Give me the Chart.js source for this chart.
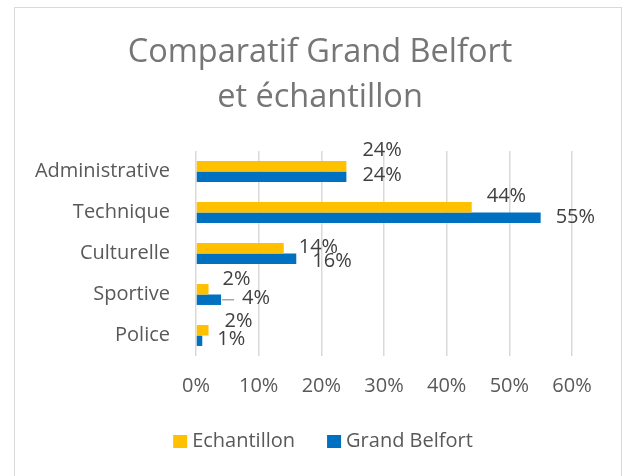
<!DOCTYPE html>
<html>
<head>
<meta charset="utf-8">
<script src="https://cdn.jsdelivr.net/npm/chart.js@4"></script>
<style>
  body { margin: 0; background: #fff; }
  #frame {
    position: absolute; left: 14px; top: 7px;
    width: 606px; height: 500px;
    border: 1px solid #d9d9d9;
  }
  canvas { position: absolute; left: 0; top: 0; }
</style>
</head>
<body>
<div id="frame"></div>
<canvas id="chart" width="628" height="476"></canvas>
<script>
const categories = ["Administrative", "Technique", "Culturelle", "Sportive", "Police"];
const echantillon = [24, 44, 14, 2, 2];
const grandBelfort = [24, 55, 16, 4, 1];
const tickValues = [0, 10, 20, 30, 40, 50, 60];
const titleLines = ["Comparatif Grand Belfort", "et échantillon"];

// label nudges (px) like the hand-moved Excel labels
const labelDx = [[16, 15, 15, 14, 16], [16, 15, 16, 21, 15]];
const labelDy = [[-16, -11, -1, -10, -9], [-1, 0, 3, -1, -1]];

const FONT = "'Open Sans', sans-serif";

// title centred on the chart frame, not on the plot
const frameTitle = {
  id: "frameTitle",
  afterDraw(chart) {
    const ctx = chart.ctx;
    ctx.save();
    ctx.font = "32.5px " + FONT;
    ctx.fillStyle = "#767676";
    ctx.textAlign = "center";
    ctx.textBaseline = "alphabetic";
    titleLines.forEach((line, i) => {
      ctx.fillText(line, chart.width / 2 + 6, 62 + i * 45);
    });
    ctx.restore();
  }
};

const barLabels = {
  id: "barLabels",
  afterDatasetsDraw(chart) {
    const ctx = chart.ctx;
    ctx.save();
    ctx.font = "20px " + FONT;
    ctx.fillStyle = "#404040";
    ctx.textAlign = "left";
    ctx.textBaseline = "middle";
    chart.data.datasets.forEach((ds, di) => {
      chart.getDatasetMeta(di).data.forEach((bar, i) => {
        const x = bar.x + labelDx[di][i];
        const y = bar.y + labelDy[di][i];
        if (labelDx[di][i] > 18) {
          // leader line
          ctx.strokeStyle = "#a6a6a6";
          ctx.lineWidth = 1.5;
          ctx.beginPath();
          ctx.moveTo(bar.x + 1, bar.y);
          ctx.lineTo(x - 8, bar.y);
          ctx.stroke();
        }
        ctx.fillText(ds.data[i] + "%", x, y);
      });
    });
    ctx.restore();
  }
};

// Excel-like legend: small gap between square and text
const excelLegend = {
  id: "excelLegend",
  afterDraw(chart) {
    const ctx = chart.ctx;
    const box = 14, gap = 5, spacing = 32;
    ctx.save();
    ctx.font = "20px " + FONT;
    ctx.textBaseline = "middle";
    ctx.textAlign = "left";
    const items = chart.data.datasets.map((ds) => ({
      text: ds.label,
      color: ds.backgroundColor,
      w: box + gap + ctx.measureText(ds.label).width,
    }));
    const total = items.reduce((s, it) => s + it.w, 0) + spacing * (items.length - 1);
    let x = chart.width / 2 + 9 - total / 2;
    const y = chart.chartArea.bottom + 85;
    items.forEach((it) => {
      ctx.fillStyle = it.color;
      ctx.fillRect(x, y - 6, box, box - 1);
      ctx.fillStyle = "#595959";
      ctx.fillText(it.text, x + box + gap, y);
      x += it.w + spacing;
    });
    ctx.restore();
  }
};

new Chart(document.getElementById("chart"), {
  type: "bar",
  data: {
    labels: categories,
    datasets: [
      {
        label: "Echantillon",
        data: echantillon,
        backgroundColor: "#FFC000",
        categoryPercentage: 0.51,
        barPercentage: 1,
      },
      {
        label: "Grand Belfort",
        data: grandBelfort,
        backgroundColor: "#0070C0",
        categoryPercentage: 0.51,
        barPercentage: 1,
      },
    ],
  },
  options: {
    indexAxis: "y",
    responsive: false,
    animation: false,
    layout: { padding: { top: 151, left: 20, right: 56, bottom: 62 } },
    plugins: {
      title: { display: false },
      legend: { display: false },
      tooltip: { enabled: false },
    },
    scales: {
      x: {
        min: 0,
        max: 60,
        afterBuildTicks: (scale) => {
          scale.ticks = tickValues.map((v) => ({ value: v }));
        },
        afterFit: (scale) => {
          scale.height = 58;
        },
        ticks: {
          color: "#595959",
          font: { family: FONT, size: 20 },
          padding: 18,
          callback: (v) => v + "%",
        },
        grid: { color: "#d9d9d9", lineWidth: 1.5, drawTicks: false },
        border: { display: false },
      },
      y: {
        afterFit: (scale) => {
          scale.width = 176;
        },
        ticks: {
          color: "#595959",
          font: { family: FONT, size: 20 },
          padding: 26,
        },
        grid: { display: false, drawTicks: false },
        border: { display: false },
      },
    },
  },
  plugins: [barLabels, excelLegend, frameTitle],
});
</script>
</body>
</html>
